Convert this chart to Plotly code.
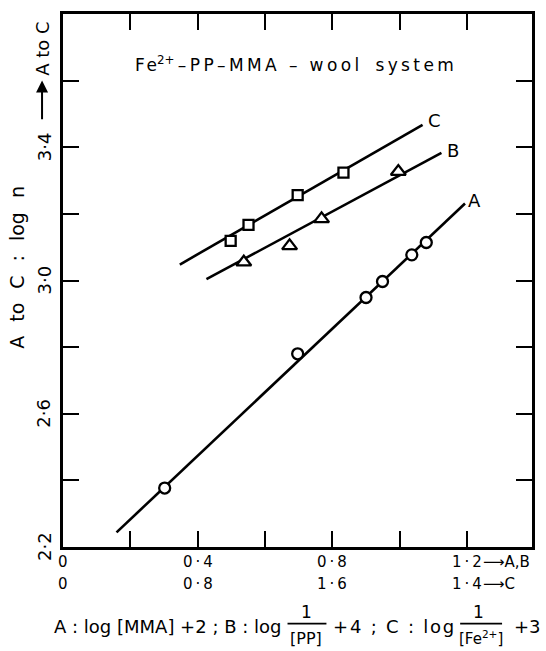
import plotly.graph_objects as go

# ---------------- data ----------------
a_x = [0.302, 0.697, 0.900, 0.949, 1.036, 1.079]
a_y = [2.377, 2.780, 2.949, 2.997, 3.077, 3.114]
b_x = [0.537, 0.673, 0.768, 0.996]
b_y = [3.055, 3.104, 3.185, 3.327]
c_x = [0.498, 0.551, 0.697, 0.833]
c_y = [3.119, 3.167, 3.256, 3.324]

# fitted straight lines (end points)
a_fit_x = [0.159, 1.194]
a_fit_y = [2.244, 3.231]
b_fit_x = [0.426, 1.124]
b_fit_y = [3.004, 3.383]
c_fit_x = [0.347, 1.068]
c_fit_y = [3.048, 3.467]

x_tick_vals = [0.0, 0.4, 0.8, 1.2]
x_tick_row1 = ["0", "0·4", "0·8", "1·2"]
x_tick_row2 = ["0", "0·8", "1·6", "1·4"]
y_tick_vals = [2.2, 2.6, 3.0, 3.4]
y_tick_text = ["2·2", "2·6", "3·0", "3·4"]

FONT = "DejaVu Sans"
HS = "\u200a"   # hair space
TS = "\u2009"   # thin space
NB = "\u00a0"


def sp(s, sep=HS):
    return sep.join(s).replace(" ", NB)


def px(p):
    return (p - 63) / 470


def py(p):
    return (547 - p) / 536


fig = go.Figure()

for fx, fy in [(a_fit_x, a_fit_y), (b_fit_x, b_fit_y), (c_fit_x, c_fit_y)]:
    fig.add_trace(go.Scatter(x=fx, y=fy, mode="lines",
                             line=dict(color="black", width=2.6),
                             showlegend=False, hoverinfo="skip"))

for xs, ys, sym, size in [(a_x, a_y, "circle", 11),
                          (b_x, b_y, "triangle-up", 13),
                          (c_x, c_y, "square", 10)]:
    fig.add_trace(go.Scatter(x=xs, y=ys, mode="markers",
                             marker=dict(symbol=sym, size=size, color="white",
                                         line=dict(color="black", width=2.3)),
                             showlegend=False))

ann = []
# series labels at line ends
for lab, fx, fy, xs, ys in [("A", a_fit_x, a_fit_y, 1, 3),
                            ("B", b_fit_x, b_fit_y, 4, 2),
                            ("C", c_fit_x, c_fit_y, 3, 4)]:
    ann.append(dict(x=fx[1], y=fy[1], xref="x", yref="y", text=lab,
                    showarrow=False, xanchor="left", yanchor="middle",
                    xshift=xs, yshift=ys, font=dict(size=18)))

# x tick labels (two rows)
for v, t1, t2 in zip(x_tick_vals, x_tick_row1, x_tick_row2):
    ann.append(dict(x=v, y=py(562.5), xref="x", yref="paper", text=sp(t1, TS),
                    showarrow=False, xanchor="center", yanchor="middle",
                    font=dict(size=15)))
    ann.append(dict(x=v, y=py(584), xref="x", yref="paper", text=sp(t2, TS),
                    showarrow=False, xanchor="center", yanchor="middle",
                    font=dict(size=15)))
# arrows after last tick labels
ann.append(dict(x=x_tick_vals[-1], y=py(562.5), xref="x", yref="paper",
                text="\u27f6A,B", showarrow=False, xanchor="left",
                yanchor="middle", xshift=14, font=dict(size=15)))
ann.append(dict(x=x_tick_vals[-1], y=py(584), xref="x", yref="paper",
                text="\u27f6C", showarrow=False, xanchor="left",
                yanchor="middle", xshift=14, font=dict(size=15)))

# y tick labels (rotated)
for v, t in zip(y_tick_vals, y_tick_text):
    ann.append(dict(x=px(44), y=v, xref="paper", yref="y", text=t,
                    showarrow=False, textangle=-90, xanchor="center",
                    yanchor="middle", font=dict(size=18)))
# "→ A to C" at top of y axis
ann.append(dict(x=px(43), y=py(46), xref="paper", yref="paper",
                text=sp("A to C", ""), showarrow=False, textangle=-90,
                xanchor="center", yanchor="middle", font=dict(size=18)))
ann.append(dict(x=px(42), y=py(78), xref="paper", yref="paper",
                text="", showarrow=True, ax=0, ay=40, arrowhead=2,
                arrowsize=1.2, arrowwidth=2, arrowcolor="black"))

# y axis title
ann.append(dict(x=px(16), y=py(266), xref="paper", yref="paper",
                text=("A to C : log n").replace(" ", NB + NB + HS),
                showarrow=False, textangle=-90, xanchor="center",
                yanchor="middle", font=dict(size=19)))

# chart title
ann.append(dict(x=px(133), y=py(61), xref="paper", yref="paper",
                text=sp("Fe", HS) + "<sup>2+</sup>" + TS +
                sp("–PP–MMA – wool", TS) + NB + NB + NB + sp("system", TS),
                showarrow=False, xanchor="left", yanchor="middle",
                font=dict(size=17)))

# x axis composite title
ymain = py(627)
ynum = py(612)
yden = py(639)
ybar = py(624)

ann.append(dict(x=px(52), y=ymain, xref="paper", yref="paper",
                text=sp("A : log [MMA] +2 ; B : log", ""), showarrow=False,
                xanchor="left", yanchor="middle", font=dict(size=18)))
ann.append(dict(x=px(307), y=ynum, xref="paper", yref="paper", text="1",
                showarrow=False, xanchor="center", yanchor="middle",
                font=dict(size=17)))
ann.append(dict(x=px(307), y=yden, xref="paper", yref="paper",
                text="[PP]", showarrow=False, xanchor="center",
                yanchor="middle", font=dict(size=16)))
ann.append(dict(x=px(332), y=ymain, xref="paper", yref="paper",
                text=sp("+4 ; C : log", HS), showarrow=False, xanchor="left",
                yanchor="middle", font=dict(size=18)))
ann.append(dict(x=px(479), y=ynum, xref="paper", yref="paper", text="1",
                showarrow=False, xanchor="center", yanchor="middle",
                font=dict(size=17)))
ann.append(dict(x=px(482), y=yden, xref="paper", yref="paper",
                text="[Fe<sup>2+</sup>]", showarrow=False, xanchor="center",
                yanchor="middle", font=dict(size=15)))
ann.append(dict(x=px(513), y=ymain, xref="paper", yref="paper",
                text="+3", showarrow=False, xanchor="left",
                yanchor="middle", font=dict(size=18)))

shapes = [
    dict(type="line", xref="paper", yref="paper", x0=px(288), x1=px(327),
         y0=ybar, y1=ybar, line=dict(color="black", width=1.8)),
    dict(type="line", xref="paper", yref="paper", x0=px(461), x1=px(503),
         y0=ybar, y1=ybar, line=dict(color="black", width=1.8)),
]

axis_common = dict(showgrid=False, zeroline=False, showline=True,
                   linecolor="black", linewidth=2.6, mirror="ticks",
                   ticks="inside", ticklen=16, tickwidth=1.8,
                   tickcolor="black", showticklabels=False)

fig.update_layout(
    width=546, height=651, autosize=False,
    margin=dict(l=63, r=13, t=11, b=104),
    paper_bgcolor="white", plot_bgcolor="white",
    font=dict(family=FONT, color="black", size=15),
    xaxis=dict(range=[0, 1.393], tick0=0, dtick=0.2, **axis_common),
    yaxis=dict(range=[2.2, 3.8], tick0=2.2, dtick=0.2, **axis_common),
    annotations=ann, shapes=shapes, showlegend=False,
)

fig.write_html("out.html", config={"displayModeBar": False},
               post_script="document.body.style.margin='0';")
